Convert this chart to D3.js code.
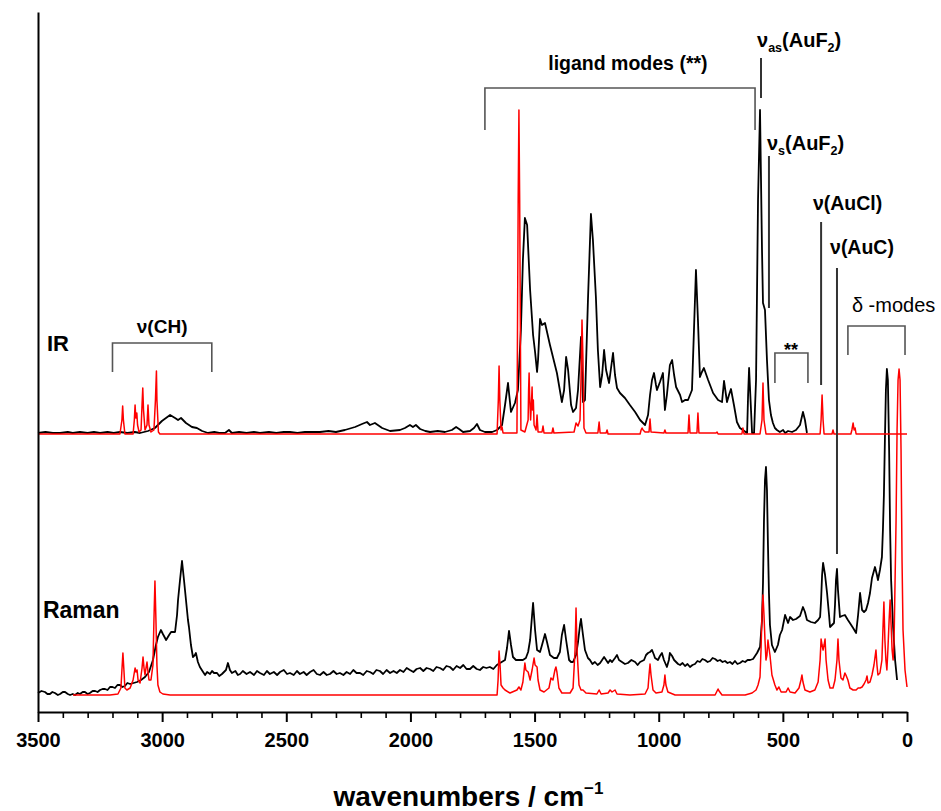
<!DOCTYPE html>
<html>
<head>
<meta charset="utf-8">
<script src="https://cdn.jsdelivr.net/npm/d3@7"></script>
<style>
  html, body { margin: 0; padding: 0; background: #fff; }
  svg text { font-family: "Liberation Sans", Arial, sans-serif; }
</style>
</head>
<body>
<svg id="chart" width="941" height="811"></svg>
<script>
// ---------------- DATA (wavenumber cm^-1, intensity in arbitrary units) ----------------
const irExp = [[3500,1],[3470,2],[3440,1],[3411,1],[3380,2],[3360,1],[3331,2],[3300,1],[3275,2],[3250,1],[3220,2],[3195,1],[3170,2],[3140,1],[3110,2],[3089,1],[3057,3],[3029,6],[3001,13],[2968,19],[2948,16],[2936,14],[2924,16],[2904,11],[2880,7],[2860,6],[2839,3],[2815,1],[2790,2],[2770,1],[2747,1],[2731,4],[2719,1],[2690,2],[2660,1],[2630,2],[2606,1],[2570,2],[2540,1],[2510,2],[2485,2],[2455,1],[2425,2],[2395,2],[2364,2],[2330,3],[2300,2],[2264,4],[2223,7],[2195,10],[2175,12],[2163,9],[2143,11],[2114,6],[2082,3],[2042,4],[2022,6],[2002,9],[1990,7],[1978,9],[1961,5],[1940,3],[1921,2],[1890,3],[1861,2],[1833,4],[1816,7],[1804,5],[1788,2],[1760,3],[1744,6],[1732,10],[1720,4],[1700,2],[1671,2],[1651,4],[1631,9],[1619,29],[1607,51],[1595,22],[1579,31],[1567,44],[1555,104],[1547,174],[1539,216],[1530,209],[1518,144],[1506,99],[1498,82],[1490,62],[1486,74],[1478,115],[1470,109],[1458,111],[1438,89],[1410,61],[1390,32],[1381,44],[1373,77],[1365,64],[1353,29],[1345,22],[1333,26],[1325,44],[1313,97],[1305,32],[1297,34],[1285,134],[1273,220],[1265,194],[1253,137],[1245,84],[1236,47],[1228,59],[1220,84],[1212,64],[1200,51],[1192,66],[1184,81],[1176,59],[1168,46],[1156,41],[1136,36],[1116,29],[1095,22],[1075,14],[1063,11],[1055,9],[1043,19],[1035,39],[1027,54],[1019,61],[1011,49],[1007,44],[995,52],[983,61],[975,24],[967,39],[955,69],[946,74],[938,59],[930,47],[914,39],[906,32],[894,34],[882,34],[866,44],[858,104],[850,164],[842,114],[834,57],[826,62],[818,66],[801,54],[781,41],[761,34],[745,32],[737,53],[729,39],[725,32],[717,39],[709,45],[697,29],[685,12],[673,6],[661,4],[644,1],[640,39],[636,66],[632,44],[624,1],[616,1],[608,54],[600,234],[592,324],[584,184],[580,131],[572,124],[564,74],[556,34],[548,19],[540,11],[532,6],[524,4],[512,2],[499,4],[491,1],[479,3],[463,2],[447,4],[431,9],[419,22],[411,14],[403,1]];

const irCalc = [[3500,0],[3170,0],[3162,14],[3159,28],[3156,14],[3150,0],[3117,0],[3112,14],[3109,29],[3106,16],[3102,21],[3099,9],[3093,2],[3085,4],[3081,29],[3078,46],[3075,24],[3069,4],[3061,9],[3057,29],[3053,9],[3045,2],[3033,4],[3027,34],[3023,63],[3021,34],[3015,2],[3009,0],[1651,0],[1646,34],[1643,68],[1640,34],[1635,4],[1631,7],[1627,1],[1571,1],[1566,234],[1563,324],[1560,234],[1555,4],[1539,2],[1526,14],[1524,44],[1522,61],[1520,39],[1516,14],[1512,34],[1510,47],[1508,24],[1505,34],[1502,9],[1494,4],[1490,19],[1486,2],[1470,2],[1466,8],[1462,1],[1430,1],[1426,6],[1422,1],[1341,2],[1333,11],[1325,8],[1317,14],[1313,54],[1309,114],[1305,74],[1301,6],[1293,1],[1245,1],[1240,12],[1236,1],[1212,1],[1208,4],[1204,0],[1075,0],[1071,4],[1067,6],[1063,4],[1055,2],[1039,2],[1035,15],[1031,2],[979,1],[975,4],[971,1],[882,1],[878,19],[874,1],[846,1],[842,21],[838,1],[769,1],[765,2],[761,0],[665,0],[661,6],[656,0],[592,0],[584,14],[580,51],[576,14],[568,0],[350,0],[346,14],[342,39],[338,14],[334,0],[302,0],[298,4],[294,0],[226,0],[222,4],[217,11],[213,4],[209,6],[205,0],[0,0]];

const ramanExp = [[3500,2],[3486,4],[3472,3],[3462,1],[3452,1],[3442,3],[3432,2],[3420,0],[3411,1],[3400,3],[3391,3],[3380,1],[3371,0],[3360,1],[3351,0],[3340,2],[3331,1],[3320,3],[3311,3],[3300,1],[3291,2],[3280,4],[3270,4],[3260,3],[3250,5],[3240,6],[3230,6],[3220,5],[3210,8],[3200,8],[3190,7],[3180,10],[3170,10],[3160,8],[3150,9],[3140,12],[3129,11],[3115,12],[3101,13],[3085,15],[3069,18],[3053,23],[3037,35],[3025,50],[3017,58],[3005,65],[2997,61],[2984,55],[2972,60],[2964,63],[2948,63],[2940,80],[2936,95],[2928,115],[2920,134],[2912,115],[2904,95],[2896,75],[2892,68],[2884,50],[2876,38],[2868,40],[2864,42],[2856,33],[2848,28],[2835,23],[2827,20],[2819,23],[2807,21],[2799,24],[2791,22],[2779,22],[2770,19],[2759,21],[2743,25],[2735,32],[2727,25],[2719,22],[2705,24],[2695,20],[2686,21],[2675,24],[2660,21],[2646,23],[2630,20],[2618,24],[2606,22],[2590,20],[2578,24],[2566,21],[2550,23],[2537,20],[2525,23],[2510,25],[2497,21],[2485,22],[2470,20],[2457,24],[2445,21],[2430,23],[2418,20],[2404,23],[2390,25],[2377,21],[2364,20],[2350,23],[2337,20],[2324,21],[2310,24],[2297,21],[2284,22],[2270,20],[2257,23],[2243,21],[2230,25],[2217,22],[2203,22],[2190,20],[2176,24],[2163,23],[2150,21],[2137,25],[2123,24],[2110,21],[2096,25],[2082,22],[2068,24],[2055,22],[2042,25],[2028,23],[2015,27],[2002,25],[1988,23],[1975,26],[1961,27],[1948,24],[1935,27],[1921,26],[1908,24],[1895,28],[1881,27],[1868,25],[1855,29],[1841,28],[1828,25],[1814,29],[1800,27],[1787,30],[1774,26],[1760,26],[1747,29],[1733,26],[1720,25],[1707,28],[1694,27],[1680,28],[1666,26],[1652,30],[1639,32],[1619,35],[1611,47],[1603,64],[1595,50],[1587,38],[1575,35],[1559,35],[1547,35],[1535,37],[1526,43],[1518,55],[1510,80],[1506,92],[1498,65],[1490,45],[1478,43],[1470,50],[1458,61],[1450,53],[1438,40],[1422,37],[1410,37],[1398,43],[1390,60],[1381,70],[1373,55],[1361,35],[1353,33],[1345,33],[1333,40],[1325,53],[1317,70],[1313,76],[1305,60],[1297,45],[1285,37],[1277,35],[1267,31],[1257,33],[1246,30],[1236,32],[1228,35],[1220,38],[1212,35],[1204,32],[1196,35],[1188,33],[1176,37],[1168,40],[1160,35],[1148,33],[1136,31],[1124,32],[1110,35],[1095,33],[1085,30],[1075,33],[1059,35],[1051,40],[1043,42],[1035,43],[1027,45],[1019,40],[1015,37],[1003,35],[995,39],[987,42],[979,35],[967,28],[959,35],[955,42],[946,39],[938,35],[930,33],[922,31],[914,30],[904,32],[894,29],[884,31],[874,28],[864,30],[854,31],[844,34],[834,33],[824,36],[814,35],[803,33],[793,34],[783,37],[773,36],[763,34],[753,35],[743,33],[733,34],[723,32],[713,33],[703,31],[693,34],[683,31],[673,32],[662,34],[652,33],[642,35],[632,35],[620,36],[612,39],[604,42],[592,48],[584,75],[580,112],[576,175],[572,215],[568,228],[564,205],[560,150],[556,102],[552,70],[544,50],[532,43],[520,50],[512,60],[503,65],[491,80],[479,72],[471,78],[459,75],[447,76],[431,79],[419,88],[411,83],[403,75],[387,73],[371,72],[358,75],[350,78],[346,95],[342,120],[338,132],[330,120],[322,102],[314,80],[310,68],[302,70],[294,72],[290,90],[286,115],[282,126],[278,105],[270,78],[262,79],[250,80],[238,75],[230,72],[217,67],[205,62],[197,80],[189,102],[181,85],[173,83],[165,85],[157,92],[149,102],[141,117],[129,128],[121,120],[117,115],[109,125],[101,138],[97,165],[93,200],[89,255],[85,305],[81,326],[77,315],[72,245],[68,165],[64,115],[56,68],[48,35],[40,15]];

const ramanCalc = [[3359,0],[3210,0],[3178,1],[3166,7],[3162,25],[3158,42],[3154,25],[3150,7],[3142,5],[3129,7],[3117,15],[3109,27],[3105,23],[3101,25],[3097,15],[3089,12],[3081,27],[3077,38],[3073,27],[3069,20],[3065,27],[3061,33],[3057,23],[3053,15],[3045,15],[3037,30],[3033,75],[3029,114],[3025,75],[3021,30],[3017,10],[3009,3],[2997,1],[2968,0],[1651,0],[1647,15],[1643,44],[1639,30],[1635,10],[1627,7],[1619,5],[1599,2],[1571,5],[1563,8],[1555,5],[1547,13],[1539,32],[1535,25],[1526,23],[1518,15],[1510,25],[1502,37],[1498,30],[1490,28],[1486,15],[1478,5],[1462,3],[1442,7],[1434,17],[1426,15],[1418,25],[1414,28],[1410,23],[1402,7],[1390,2],[1357,2],[1345,7],[1337,45],[1333,87],[1329,45],[1321,10],[1313,5],[1305,5],[1293,2],[1249,1],[1240,5],[1232,1],[1204,2],[1196,5],[1188,3],[1176,5],[1168,1],[1116,0],[1055,1],[1043,7],[1039,20],[1035,31],[1031,20],[1023,5],[1011,2],[987,3],[979,10],[975,20],[971,10],[963,3],[934,0],[773,0],[765,4],[761,6],[757,4],[745,0],[652,0],[624,2],[608,5],[600,10],[592,18],[588,45],[584,80],[580,100],[576,80],[572,55],[568,35],[564,40],[560,55],[556,47],[552,40],[544,20],[532,10],[524,5],[516,8],[507,3],[487,3],[479,7],[471,3],[451,2],[435,7],[427,15],[423,20],[419,13],[411,5],[391,3],[371,5],[358,13],[350,35],[346,56],[342,50],[338,45],[334,50],[330,56],[326,35],[318,15],[310,7],[298,7],[290,15],[282,35],[278,56],[274,35],[266,17],[258,15],[250,22],[246,20],[238,15],[230,7],[217,5],[205,5],[197,7],[189,7],[181,8],[173,11],[165,15],[161,19],[157,12],[149,13],[141,20],[133,30],[125,45],[121,30],[117,20],[109,22],[101,35],[97,65],[93,93],[89,55],[85,35],[81,25],[77,45],[72,75],[68,95],[64,70],[60,45],[56,35],[52,55],[44,175],[40,265],[36,315],[32,326],[28,315],[24,245],[20,135],[16,65],[8,25],[0,8]];

const majorTicks = [3500, 3000, 2500, 2000, 1500, 1000, 500, 0];
const minorTicks = [3400,3300,3200,3100,2900,2800,2700,2600,2400,2300,2200,2100,1900,1800,1700,1600,1400,1300,1200,1100,900,800,700,600,400,300,200,100];

// vertical offsets of the two stacked panels (arbitrary units)
const irOffset = 278;
const ramanOffset = 17;

// annotations (wavenumber / intensity units)
const brackets = [
  {x0: 3200, x1: 2800, top: 369, bottom: 340},
  {x0: 1700, x1: 612,  top: 624, bottom: 582},
  {x0: 532,  x1: 399,  top: 359, bottom: 329},
  {x0: 238,  x1: 8,    top: 386, bottom: 357}
];
const markers = [
  {x: 588, y0: 654, y1: 614},
  {x: 556, y0: 556, y1: 404},
  {x: 346, y0: 490, y1: 327},
  {x: 282, y0: 444, y1: 158}
];

// ---------------- CHART ----------------
const W = 941, H = 811;
const margin = {left: 38, right: 34, top: 12, bottom: 99};
const svg = d3.select("#chart");

const x = d3.scaleLinear().domain([3500, 0]).range([margin.left, W - margin.right]);
const y = d3.scaleLinear().domain([0, 700]).range([H - margin.bottom, margin.top]);

const lineFor = off => d3.line().x(d => x(d[0])).y(d => y(d[1] + off));

// spectra
svg.append("path").datum(irExp).attr("d", lineFor(irOffset))
  .attr("fill", "none").attr("stroke", "#000").attr("stroke-width", 1.8).attr("stroke-linejoin", "round");
svg.append("path").datum(ramanExp).attr("d", lineFor(ramanOffset))
  .attr("fill", "none").attr("stroke", "#000").attr("stroke-width", 1.8).attr("stroke-linejoin", "round");
svg.append("path").datum(irCalc).attr("d", lineFor(irOffset))
  .attr("fill", "none").attr("stroke", "#ff0000").attr("stroke-width", 1.5).attr("stroke-linejoin", "round");
svg.append("path").datum(ramanCalc).attr("d", lineFor(ramanOffset))
  .attr("fill", "none").attr("stroke", "#ff0000").attr("stroke-width", 1.5).attr("stroke-linejoin", "round");

// brackets
brackets.forEach(b => {
  svg.append("path")
    .attr("d", `M${x(b.x0)},${y(b.bottom)}V${y(b.top)}H${x(b.x1)}V${y(b.bottom)}`)
    .attr("fill", "none").attr("stroke", "#555").attr("stroke-width", 1.6);
});
markers.forEach(m => {
  svg.append("line")
    .attr("x1", x(m.x)).attr("x2", x(m.x)).attr("y1", y(m.y0)).attr("y2", y(m.y1))
    .attr("stroke", "#333").attr("stroke-width", 2);
});

// axes
const xAxisG = svg.append("g").attr("transform", `translate(0,${y(0)})`)
  .call(d3.axisBottom(x).tickValues(majorTicks).tickSize(10).tickSizeOuter(0).tickPadding(11).tickFormat(d3.format("d")));
xAxisG.select(".domain").attr("stroke-width", 2);
xAxisG.selectAll(".tick line").attr("stroke-width", 2);
xAxisG.selectAll(".tick text").attr("font-size", 20).attr("font-weight", "bold")
  .attr("font-family", "'Liberation Sans Narrow', 'Liberation Sans', Arial, sans-serif").attr("fill", "#000");

const minorG = svg.append("g").attr("transform", `translate(0,${y(0)})`)
  .call(d3.axisBottom(x).tickValues(minorTicks).tickSize(6).tickSizeOuter(0).tickFormat(""));
minorG.select(".domain").remove();
minorG.selectAll(".tick line").attr("stroke-width", 1.6);

const yAxisG = svg.append("g").attr("transform", `translate(${x(3500)},0)`)
  .call(d3.axisLeft(y).tickValues([]).tickSizeOuter(0));
yAxisG.select(".domain").attr("stroke-width", 2);

// axis title
const title = svg.append("text").attr("x", (x(3500) + x(0)) / 2 - 4).attr("y", 806)
  .attr("text-anchor", "middle").attr("font-size", 28).attr("font-weight", "bold").attr("fill", "#000");
title.append("tspan").text("wavenumbers / cm");
title.append("tspan").text("−1").attr("font-size", 17).attr("dy", -12);

// text labels
function label(txt, wn, val, opts = {}) {
  return svg.append("text").attr("x", x(wn)).attr("y", y(val))
    .attr("text-anchor", opts.anchor || "start")
    .attr("font-size", opts.size || 19)
    .attr("font-weight", opts.weight || "bold")
    .attr("fill", "#000").text(txt);
}
label("IR", 3464, 361, {size: 22});
label("Raman", 3480, 94, {size: 23});
label("ν(CH)", 3000, 379, {anchor: "middle", size: 19});
label("ligand modes (**)", 1124, 642, {anchor: "middle", size: 19.5});
label("ν(AuCl)", 379, 502, {size: 19.5});
label("ν(AuC)", 310, 458, {size: 19.5});
label("δ -modes", 222, 400, {size: 20, weight: "normal"});
label("**", 467, 356, {anchor: "middle", size: 18});

function subLabel(parts, wn, val) {
  const t = svg.append("text").attr("x", x(wn)).attr("y", y(val))
    .attr("font-size", 20).attr("font-weight", "bold").attr("fill", "#000");
  let cur = 0;
  parts.forEach(p => {
    const shift = p.sub ? 5 : 0;
    t.append("tspan").text(p.t).attr("font-size", p.sub ? 12.5 : 20).attr("dy", shift - cur);
    cur = shift;
  });
}
subLabel([{t: "ν"}, {t: "as", sub: true}, {t: "(AuF"}, {t: "2", sub: true}, {t: ")"}], 604, 665);
subLabel([{t: "ν"}, {t: "s", sub: true}, {t: "(AuF"}, {t: "2", sub: true}, {t: ")"}], 564, 562);
</script>
</body>
</html>
